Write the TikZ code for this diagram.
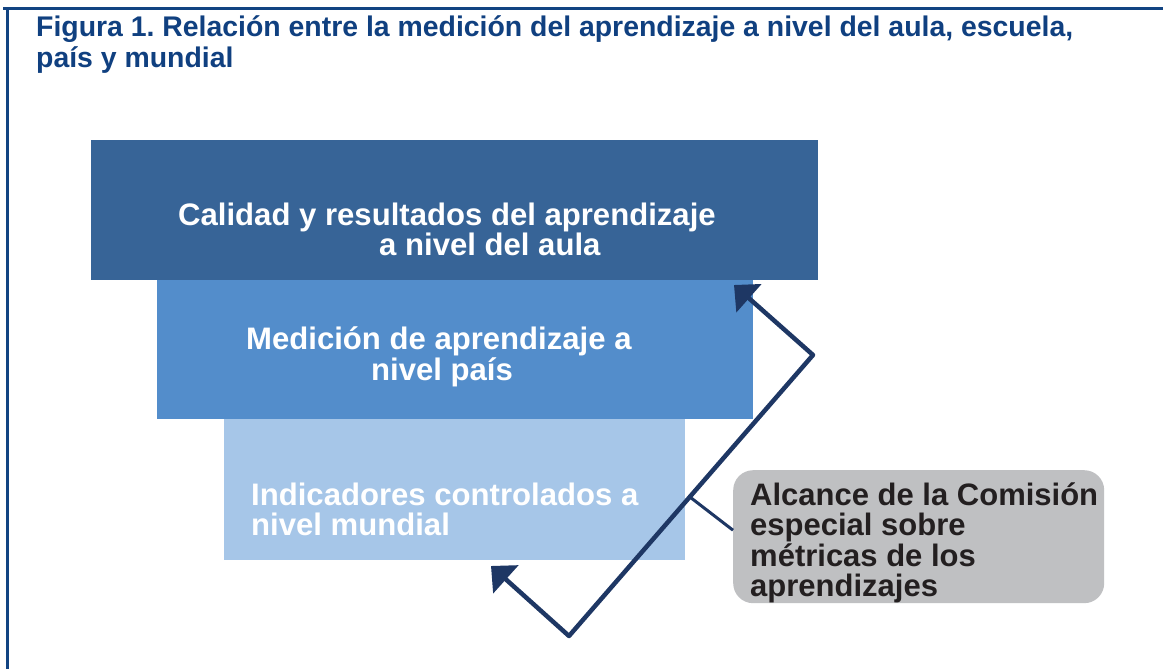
\documentclass[tikz,border=0pt]{standalone}
\usepackage{fontspec}
\setmainfont{Liberation Sans}
\usetikzlibrary{arrows.meta,calc}
\frenchspacing
\definecolor{frameblue}{RGB}{18,68,130}
\definecolor{titleblue}{RGB}{16,64,128}
\definecolor{boxA}{RGB}{55,100,151}
\definecolor{boxB}{RGB}{83,141,203}
\definecolor{boxC}{RGB}{166,198,232}
\definecolor{boxG}{RGB}{191,192,194}
\definecolor{arrowblue}{RGB}{30,55,100}
\definecolor{darktext}{RGB}{35,31,32}
\tikzset{
  levelbox/.style={draw=none, inner sep=0, anchor=north west},
  boxtext/.style={inner sep=0, anchor=base west, text=white, font=\bfseries\fontsize{31.1}{31}\selectfont},
  graytext/.style={inner sep=0, anchor=base west, text=darktext, font=\bfseries\fontsize{31}{31}\selectfont},
  titletext/.style={inner sep=0, anchor=base west, text=titleblue, font=\bfseries\fontsize{28.4}{31}\selectfont},
  flowline/.style={draw=arrowblue, line width=4.5pt, line join=round, line cap=round},
  calloutline/.style={draw=arrowblue, line width=3pt}
}
\begin{document}
\begin{tikzpicture}[x=1pt, y=-1pt]
\useasboundingbox (0,0) rectangle (1163,669);
\fill[white] (0,0) rectangle (1163,669);
% frame
\draw[frameblue, line width=3pt] (3,8.5) -- (1163,8.5);
\draw[frameblue, line width=3pt] (7,8) -- (7,669);
% title
\node[titletext] (title1) at (36,37) {Figura 1. Relación entre la medición del aprendizaje a nivel del aula, escuela,};
\node[titletext] (title2) at (36,68) {país y mundial};
% level boxes
\node[levelbox, fill=boxA, minimum width=727pt, minimum height=140pt] (b1) at (91,140) {};
\node[levelbox, fill=boxB, minimum width=596pt, minimum height=139pt] (b2) at (157,280) {};
\node[levelbox, fill=boxC, minimum width=461pt, minimum height=141pt] (b3) at (224,419) {};
\node[levelbox, fill=boxG, rounded corners=20pt, minimum width=371pt, minimum height=133pt] (gray) at (733,470) {};
% box texts
\node[boxtext] (t1a) at (178,225) {Calidad y resultados del aprendizaje};
\node[boxtext] (t1b) at (379,255) {a nivel del aula};
\node[boxtext] (t2a) at (246,349) {Medición de aprendizaje a};
\node[boxtext] (t2b) at (371,380) {nivel país};
\node[boxtext] (t3a) at (251,505) {Indicadores controlados a};
\node[boxtext] (t3b) at (251,535) {nivel mundial};
\node[graytext] (g1) at (750,505) {Alcance de la Comisión};
\node[graytext] (g2) at (750,535) {especial sobre};
\node[graytext] (g3) at (750,566) {métricas de los};
\node[graytext] (g4) at (750,596) {aprendizajes};
% arrow
\coordinate (bot) at (569,636);
\coordinate (rv) at (813,355);
\coordinate (tipA) at (734,285);
\coordinate (tipB) at (491,566);
\draw[flowline, {Triangle[length=20pt,width=37pt]}-{Triangle[length=20pt,width=37pt]}] (tipB) -- (bot) -- (rv) -- (tipA);
\coordinate (junc) at ($(bot)!0.495!(rv)$);
\draw[calloutline] (junc) -- ([yshift=6.5pt]gray.west);
\end{tikzpicture}
\end{document}
